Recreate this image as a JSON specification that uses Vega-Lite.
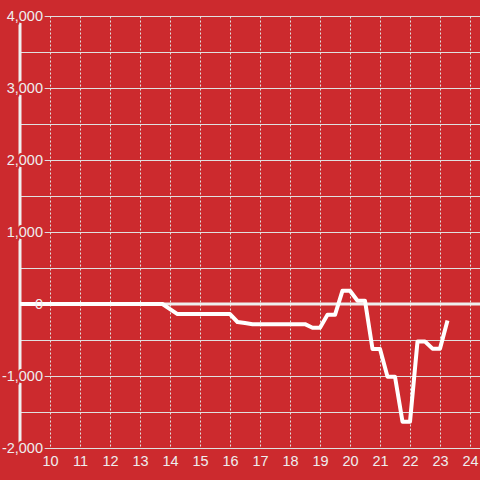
{
  "$schema": "https://vega.github.io/schema/vega-lite/v6.json",
  "width": 460,
  "height": 432,
  "autosize": {"type": "none"},
  "padding": {"left": 20, "top": 16, "right": 0, "bottom": 32},
  "background": "#cc2a2e",
  "config": {"view": {"stroke": null}, "font": "Liberation Sans"},
  "datasets": {
    "series": [
      {"hour": 9, "value": 0},
      {"hour": 13.75, "value": 0},
      {"hour": 14.0, "value": -70},
      {"hour": 14.25, "value": -140},
      {"hour": 16.0, "value": -140},
      {"hour": 16.25, "value": -250},
      {"hour": 16.5, "value": -265},
      {"hour": 16.75, "value": -280},
      {"hour": 18.5, "value": -280},
      {"hour": 18.75, "value": -330},
      {"hour": 19.0, "value": -330},
      {"hour": 19.25, "value": -150},
      {"hour": 19.5, "value": -150},
      {"hour": 19.75, "value": 185},
      {"hour": 20.0, "value": 185},
      {"hour": 20.25, "value": 46},
      {"hour": 20.5, "value": 46},
      {"hour": 20.75, "value": -625},
      {"hour": 21.0, "value": -625},
      {"hour": 21.25, "value": -1010},
      {"hour": 21.5, "value": -1010},
      {"hour": 21.75, "value": -1635},
      {"hour": 22.0, "value": -1635},
      {"hour": 22.25, "value": -520},
      {"hour": 22.5, "value": -520},
      {"hour": 22.75, "value": -620},
      {"hour": 23.0, "value": -620},
      {"hour": 23.25, "value": -230}
    ],
    "ylabels": [
      {"hour": 9, "value": 4000, "label": "4,000"},
      {"hour": 9, "value": 3000, "label": "3,000"},
      {"hour": 9, "value": 2000, "label": "2,000"},
      {"hour": 9, "value": 1000, "label": "1,000"},
      {"hour": 9, "value": 0, "label": "0"},
      {"hour": 9, "value": -1000, "label": "-1,000"},
      {"hour": 9, "value": -2000, "label": "-2,000"}
    ],
    "lines": [
      {"hour": 9, "value": 0}
    ]
  },
  "layer": [
    {
      "data": {"name": "series"},
      "mark": {"type": "line", "strokeOpacity": 0},
      "encoding": {
        "x": {"field": "hour", "type": "quantitative",
          "scale": {"domain": [9, 24.3333], "nice": false, "zero": false},
          "axis": {"values": [10, 11, 12, 13, 14, 15, 16, 17, 18, 19, 20, 21, 22, 23, 24], "labelOverlap": false, "format": "d", "grid": true, "gridDash": [2, 2], "gridColor": "#e0e0e0", "gridWidth": 1, "domain": false, "ticks": false, "labelColor": "#eeeeee", "labelFontSize": 14.5, "labelPadding": 6, "title": null}},
        "y": {"field": "value", "type": "quantitative",
          "scale": {"domain": [-2000, 4000], "nice": false},
          "axis": {"values": [-2000, -1500, -1000, -500, 0, 500, 1000, 1500, 2000, 2500, 3000, 3500, 4000], "grid": true, "gridColor": "#e0e0e0", "gridWidth": 1, "labels": false, "ticks": false, "domain": false, "title": null}}
      }
    },
    {
      "data": {"name": "lines"},
      "mark": {"type": "rule", "color": "#f0f0f0", "strokeWidth": 3},
      "encoding": {
        "x": {"field": "hour", "type": "quantitative",
          "scale": {"domain": [9, 24.3333], "nice": false, "zero": false},
          "axis": {"values": [10, 11, 12, 13, 14, 15, 16, 17, 18, 19, 20, 21, 22, 23, 24], "labelOverlap": false, "format": "d", "grid": true, "gridDash": [2, 2], "gridColor": "#e0e0e0", "gridWidth": 1, "domain": false, "ticks": false, "labelColor": "#eeeeee", "labelFontSize": 14.5, "labelPadding": 6, "title": null}}
      }
    },
    {
      "data": {"name": "lines"},
      "mark": {"type": "rule", "color": "#eeeeee", "strokeWidth": 3},
      "encoding": {
        "y": {"field": "value", "type": "quantitative",
          "scale": {"domain": [-2000, 4000], "nice": false},
          "axis": {"values": [-2000, -1500, -1000, -500, 0, 500, 1000, 1500, 2000, 2500, 3000, 3500, 4000], "grid": true, "gridColor": "#e0e0e0", "gridWidth": 1, "labels": false, "ticks": false, "domain": false, "title": null}}
      }
    },
    {
      "data": {"name": "series"},
      "mark": {"type": "line", "color": "#ffffff", "strokeWidth": 4, "strokeJoin": "round"},
      "encoding": {
        "x": {"field": "hour", "type": "quantitative",
          "scale": {"domain": [9, 24.3333], "nice": false, "zero": false},
          "axis": {"values": [10, 11, 12, 13, 14, 15, 16, 17, 18, 19, 20, 21, 22, 23, 24], "labelOverlap": false, "format": "d", "grid": true, "gridDash": [2, 2], "gridColor": "#e0e0e0", "gridWidth": 1, "domain": false, "ticks": false, "labelColor": "#eeeeee", "labelFontSize": 14.5, "labelPadding": 6, "title": null}},
        "y": {"field": "value", "type": "quantitative",
          "scale": {"domain": [-2000, 4000], "nice": false},
          "axis": {"values": [-2000, -1500, -1000, -500, 0, 500, 1000, 1500, 2000, 2500, 3000, 3500, 4000], "grid": true, "gridColor": "#e0e0e0", "gridWidth": 1, "labels": false, "ticks": false, "domain": false, "title": null}}
      }
    },
    {
      "data": {"name": "ylabels"},
      "transform": [{"filter": "datum.value != 0"}],
      "mark": {"type": "text", "align": "right", "baseline": "middle", "dx": 23, "dy": 1, "fontSize": 14.5, "color": "#cc2a2e", "stroke": "#cc2a2e", "strokeWidth": 4.5, "strokeJoin": "round"},
      "encoding": {
        "x": {"field": "hour", "type": "quantitative",
          "scale": {"domain": [9, 24.3333], "nice": false, "zero": false},
          "axis": {"values": [10, 11, 12, 13, 14, 15, 16, 17, 18, 19, 20, 21, 22, 23, 24], "labelOverlap": false, "format": "d", "grid": true, "gridDash": [2, 2], "gridColor": "#e0e0e0", "gridWidth": 1, "domain": false, "ticks": false, "labelColor": "#eeeeee", "labelFontSize": 14.5, "labelPadding": 6, "title": null}},
        "y": {"field": "value", "type": "quantitative",
          "scale": {"domain": [-2000, 4000], "nice": false},
          "axis": {"values": [-2000, -1500, -1000, -500, 0, 500, 1000, 1500, 2000, 2500, 3000, 3500, 4000], "grid": true, "gridColor": "#e0e0e0", "gridWidth": 1, "labels": false, "ticks": false, "domain": false, "title": null}},
        "text": {"field": "label"}
      }
    },
    {
      "data": {"name": "ylabels"},
      "mark": {"type": "text", "align": "right", "baseline": "middle", "dx": 23, "dy": 1, "fontSize": 14.5, "color": "#eeeeee"},
      "encoding": {
        "x": {"field": "hour", "type": "quantitative",
          "scale": {"domain": [9, 24.3333], "nice": false, "zero": false},
          "axis": {"values": [10, 11, 12, 13, 14, 15, 16, 17, 18, 19, 20, 21, 22, 23, 24], "labelOverlap": false, "format": "d", "grid": true, "gridDash": [2, 2], "gridColor": "#e0e0e0", "gridWidth": 1, "domain": false, "ticks": false, "labelColor": "#eeeeee", "labelFontSize": 14.5, "labelPadding": 6, "title": null}},
        "y": {"field": "value", "type": "quantitative",
          "scale": {"domain": [-2000, 4000], "nice": false},
          "axis": {"values": [-2000, -1500, -1000, -500, 0, 500, 1000, 1500, 2000, 2500, 3000, 3500, 4000], "grid": true, "gridColor": "#e0e0e0", "gridWidth": 1, "labels": false, "ticks": false, "domain": false, "title": null}},
        "text": {"field": "label"}
      }
    }
  ]
}
